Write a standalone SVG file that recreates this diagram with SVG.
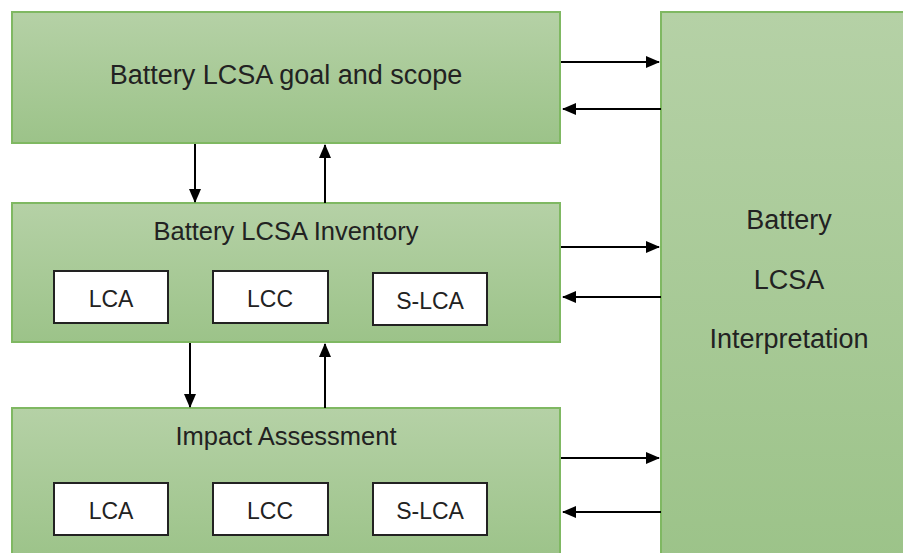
<svg xmlns="http://www.w3.org/2000/svg" width="903" height="553" viewBox="0 0 903 553">
<defs>
<linearGradient id="g" x1="0" y1="0" x2="0" y2="1">
<stop offset="0" stop-color="#b5d1a6"/>
<stop offset="1" stop-color="#9cc389"/>
</linearGradient>
<marker id="ah" markerWidth="14" markerHeight="12" refX="13" refY="6" orient="auto" markerUnits="userSpaceOnUse" viewBox="0 0 14 12">
<path d="M0,0 L14,6 L0,12 z" fill="#000"/>
</marker>
<style>
.box{fill:url(#g);stroke:#7fb862;stroke-width:2}
.inner{fill:#fff;stroke:#222;stroke-width:2}
.t{font-family:"Liberation Sans",Arial,sans-serif;fill:#222;text-anchor:middle}
.big{font-size:27px}
.mid{font-size:25.5px}
.rt{font-size:27px}
.sm{font-size:23px}
.c{stroke:#000;stroke-width:2;fill:none;marker-end:url(#ah)}
</style>
</defs>
<g id="goal">
<rect class="box" x="12" y="12" width="548" height="131"/>
<text class="t big" x="286" y="84">Battery LCSA goal and scope</text>
</g>
<g id="interp">
<rect class="box" x="661" y="12" width="250" height="550"/>
<text class="t rt" x="789" y="229">Battery</text>
<text class="t rt" x="789" y="289">LCSA</text>
<text class="t rt" x="789" y="348">Interpretation</text>
</g>
<g id="inventory">
<rect class="box" x="12" y="203" width="548" height="139"/>
<text class="t mid" x="286" y="240">Battery LCSA Inventory</text>
<rect class="inner" x="54" y="271" width="114" height="52"/>
<text class="t sm" x="111" y="307">LCA</text>
<rect class="inner" x="213" y="271" width="115" height="52"/>
<text class="t sm" x="270" y="307">LCC</text>
<rect class="inner" x="373" y="273" width="114" height="52"/>
<text class="t sm" x="430" y="309">S-LCA</text>
</g>
<g id="impact">
<rect class="box" x="12" y="408" width="548" height="152"/>
<text class="t mid" x="286" y="445">Impact Assessment</text>
<rect class="inner" x="54" y="483" width="114" height="52"/>
<text class="t sm" x="111" y="519">LCA</text>
<rect class="inner" x="213" y="483" width="115" height="52"/>
<text class="t sm" x="270" y="519">LCC</text>
<rect class="inner" x="373" y="483" width="114" height="52"/>
<text class="t sm" x="430" y="519">S-LCA</text>
</g>
<g id="connectors">
<line class="c" x1="561" y1="62" x2="659" y2="62"/>
<line class="c" x1="661" y1="109" x2="563" y2="109"/>
<line class="c" x1="561" y1="247" x2="659" y2="247"/>
<line class="c" x1="661" y1="297" x2="563" y2="297"/>
<line class="c" x1="561" y1="458" x2="659" y2="458"/>
<line class="c" x1="661" y1="512" x2="563" y2="512"/>
<line class="c" x1="195" y1="144" x2="195" y2="202"/>
<line class="c" x1="325" y1="203" x2="325" y2="145"/>
<line class="c" x1="190" y1="343" x2="190" y2="407"/>
<line class="c" x1="325" y1="408" x2="325" y2="344"/>
</g>
</svg>
